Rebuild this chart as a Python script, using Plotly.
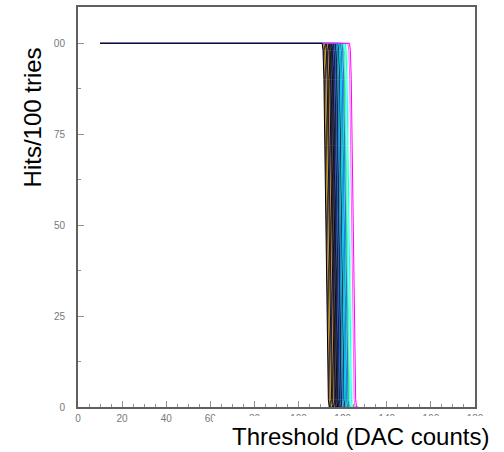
import plotly.graph_objects as go

# --- data ---
scan_start = 10
# per-channel 50% threshold (DAC counts) and line colour
thresholds = [112.6, 112.9, 113.2, 113.5, 113.8, 114.1, 114.4, 114.7, 115.0, 115.3,
              115.6, 115.9, 116.2, 116.5, 116.8, 117.1, 117.4, 117.7, 118.0, 118.3,
              118.6, 118.9, 119.2, 119.5, 119.8, 120.1, 120.4, 120.7, 121.0, 121.3,
              121.6, 122.0, 122.4, 122.8, 123.2, 124.0, 124.7, 112.3]
colors = ["#1a1a6e", "#f0a030", "#000000", "#e8c020", "#000000", "#303080", "#000000",
          "#f0a030", "#000000", "#202060", "#000000", "#404040", "#000000", "#1a1a6e",
          "#000000", "#3050c0", "#000000", "#2060e0", "#1040a0", "#000000", "#20a0a0",
          "#2060e0", "#00c0e0", "#000000", "#00e0ff", "#1090d0", "#00d8f0", "#0060c0",
          "#40e0d0", "#2040ff", "#30d0b0", "#40ff80", "#80ffff", "#00ffff", "#a0ffe0",
          "#ff60ff", "#ff00ff", "#000000"]
# common S-curve shape around the threshold: offset (DAC) -> hits/100
profile_dx = [-1.6, -1.2, -0.8, -0.4, 0.0, 0.4, 0.8, 1.2, 1.6, 2.4]
profile_y = [100, 98, 90, 72, 50, 28, 10, 2, 0, 0]

x_ticks = [0, 20, 40, 60, 80, 100, 120, 140, 160, 180]
y_ticks = [0, 25, 50, 75, 100]

fig = go.Figure()
for t, c in zip(thresholds, colors):
    xs = [scan_start] + [t + d for d in profile_dx]
    ys = [100] + profile_y
    fig.add_trace(go.Scatter(x=xs, y=ys, mode="lines",
                             line=dict(color=c, width=1),
                             showlegend=False, hoverinfo="skip"))

W, H = 504, 452
L, R, T, B = 78, 475, 5, 407
def px(xp):
    return (xp - L) / (R - L)
def py(yp):
    return (B - yp) / (B - T)

axis_common = dict(showline=True, linecolor="#606060", linewidth=2, mirror=True,
                   showgrid=False, zeroline=False, ticks="inside", tickcolor="#909090",
                   tickfont=dict(family="Liberation Sans, Arial", size=10, color="#777777"))

fig.update_layout(
    width=W, height=H,
    margin=dict(l=L, r=W - R, t=T, b=H - B),
    paper_bgcolor="white", plot_bgcolor="white",
    xaxis=dict(range=[0, 180], tickvals=x_ticks, ticklen=6, ticklabelstandoff=1,
               minor=dict(dtick=5, ticklen=3, ticks="inside", tickcolor="#909090"),
               **axis_common),
    yaxis=dict(range=[0, 110], tickvals=y_ticks, ticklen=6, ticklabelstandoff=9,
               minor=dict(dtick=12.5, ticklen=3, ticks="inside", tickcolor="#909090"),
               **axis_common),
    shapes=[
        dict(type="rect", xref="paper", yref="paper", layer="above",
             x0=px(213), x1=px(510), y0=py(416), y1=py(460),
             fillcolor="white", line=dict(width=0)),
        dict(type="rect", xref="paper", yref="paper", layer="above",
             x0=px(-5), x1=px(54), y0=py(215), y1=py(15),
             fillcolor="white", line=dict(width=0)),
    ],
    annotations=[
        dict(text="Threshold (DAC counts)", xref="paper", yref="paper",
             x=px(491), y=py(437), xanchor="right", yanchor="middle", showarrow=False,
             font=dict(family="Liberation Sans, Arial", size=24, color="black")),
        dict(text="Hits/100 tries", xref="paper", yref="paper", textangle=-90,
             x=px(32), y=py(116), xanchor="center", yanchor="middle", showarrow=False,
             font=dict(family="Liberation Sans, Arial", size=24, color="black")),
    ],
)

fig.write_html("out.html", config={"displayModeBar": False},
               post_script="document.body.style.margin='0';document.body.style.padding='0';")
